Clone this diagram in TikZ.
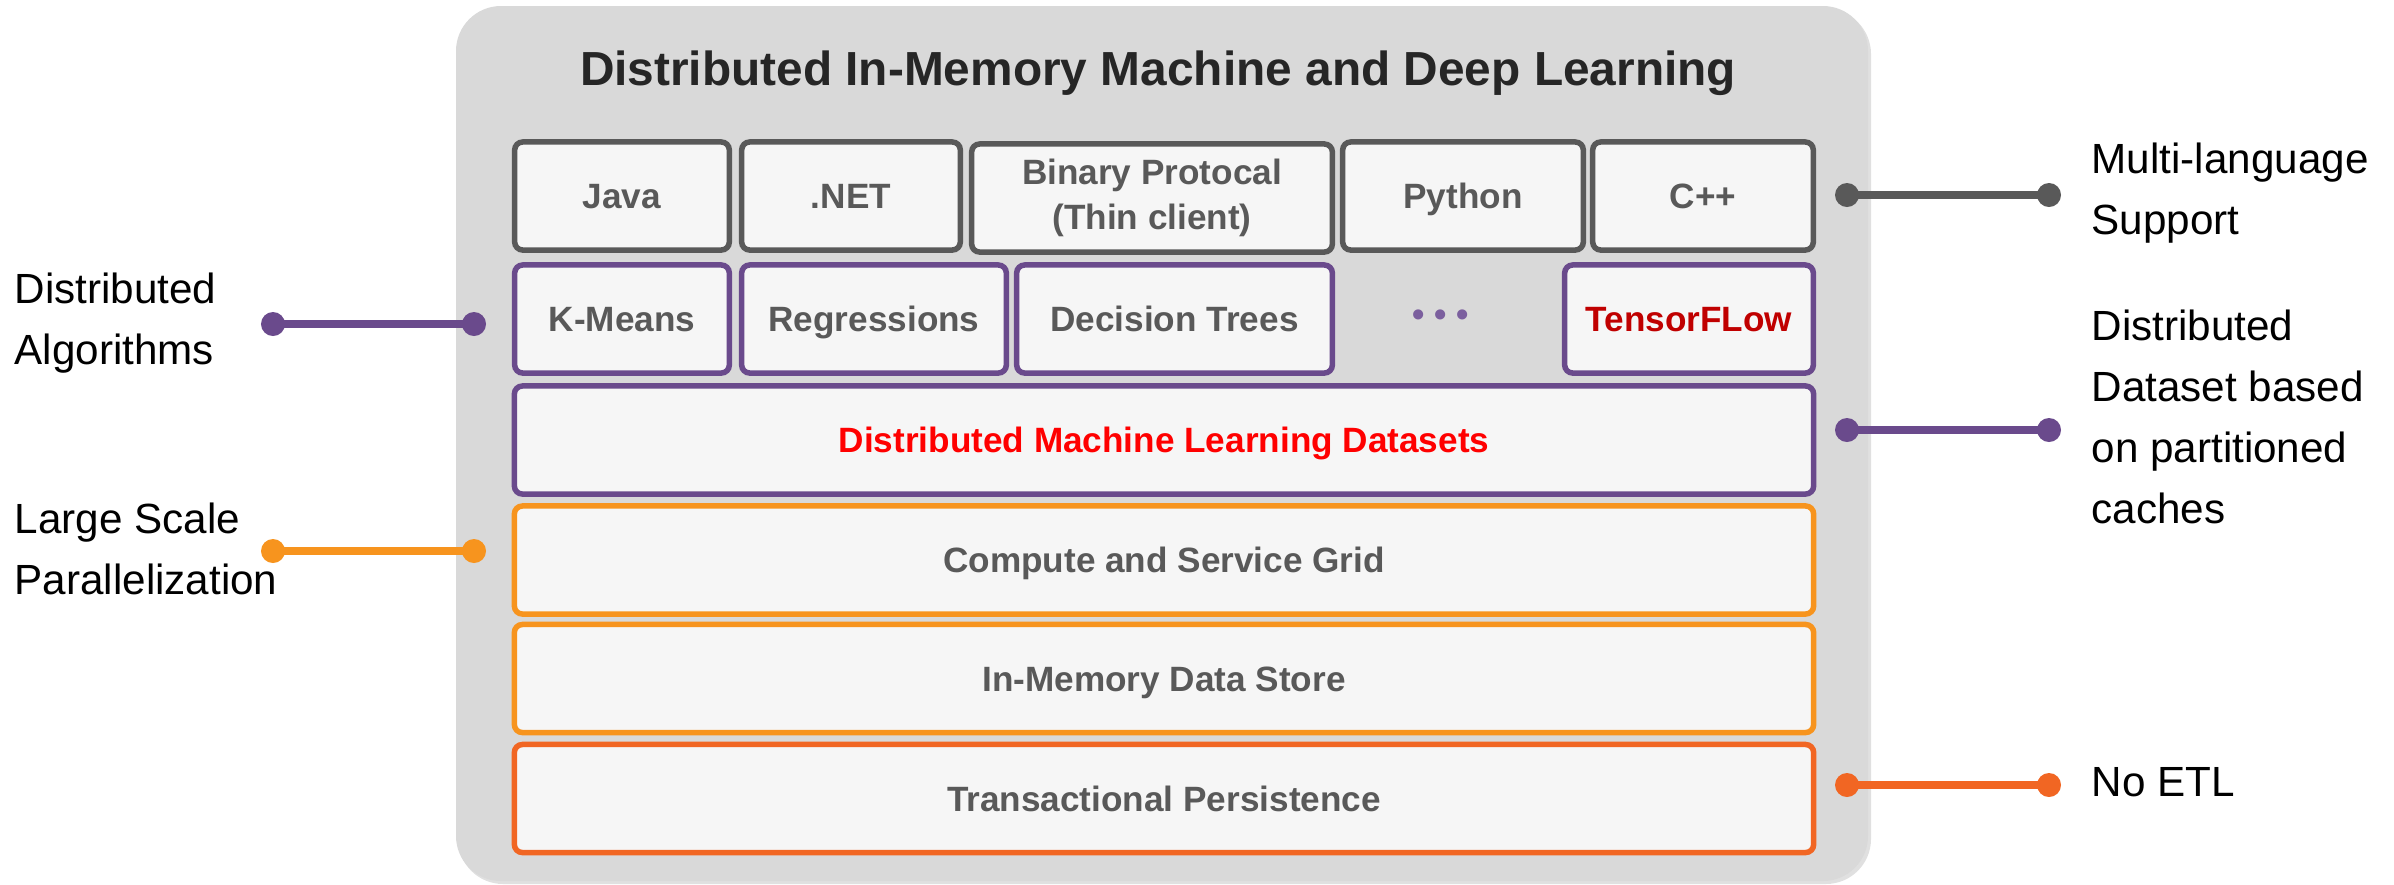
\documentclass[tikz,border=0pt]{standalone}
\usepackage{fontspec}
\setmainfont{Liberation Sans}
\usepackage{tikz}
\definecolor{panelgray}{RGB}{217,217,217}
\definecolor{boxfill}{RGB}{246,246,246}
\definecolor{edgegray}{RGB}{89,89,89}
\definecolor{txtgray}{RGB}{89,89,89}
\definecolor{algpurple}{RGB}{106,74,140}
\definecolor{dotpurple}{RGB}{123,95,158}
\definecolor{gridorange}{RGB}{247,148,30}
\definecolor{persistorange}{RGB}{241,102,35}
\definecolor{tfred}{RGB}{192,0,0}
\definecolor{dsred}{RGB}{255,0,0}
\definecolor{titleblack}{RGB}{38,38,38}
\tikzset{box/.style = {draw, line width=0.055cm, rounded corners=0.08cm, fill=boxfill, text=txtgray, align=center, inner sep=0, minimum height=1.08cm, font=\bfseries\fontsize{10}{12.8}\selectfont}}
\tikzset{layer/.style = {box, text height=0.716em, text depth=0pt}}
\tikzset{note/.style = {anchor=north west, align=left, inner sep=0, font=\fontsize{12}{17.4}\selectfont}}
\tikzset{link/.style = {line width=0.08cm}}

\begin{document}
\begin{tikzpicture}[x=0.01cm,y=-0.01cm]
            \useasboundingbox (0,0) rectangle (2394,884);
            \fill [black, opacity=0.12, rounded corners=0.45cm] (458,9) rectangle (1871,884);
            \fill [panelgray, rounded corners=0.45cm] (456,6) rectangle (1868,881);
            \node [anchor=base, inner sep=0, text=titleblack, font=\bfseries\fontsize{13.6}{16}\selectfont] (title) at (1158,85) {Distributed In-Memory Machine and Deep Learning};

            % language clients
            \node [layer, draw=edgegray, minimum width=2.145cm] (java) at (622,196) {Java};
            \node [layer, draw=edgegray, minimum width=2.185cm] (net) at (851,196) {.NET};
            \node [box, draw=edgegray, minimum width=3.605cm] (binary) at (1152,198) {Binary Protocal\\(Thin client)};
            \node [layer, draw=edgegray, minimum width=2.405cm] (python) at (1463,196) {Python};
            \node [layer, draw=edgegray, minimum width=2.205cm] (cpp) at (1703,196) {C++};

            % algorithms
            \node [layer, draw=algpurple, minimum width=2.145cm] (kmeans) at (622,319) {K-Means};
            \node [layer, draw=algpurple, minimum width=2.645cm] (regr) at (874,319) {Regressions};
            \node [layer, draw=algpurple, minimum width=3.155cm] (dtree) at (1174.5,319) {Decision Trees};
            \node [inner sep=0, text=dotpurple, font=\bfseries\fontsize{10}{12}\selectfont] (more) at (1441,318) {• • •};
            \node [layer, draw=algpurple, text=tfred, minimum width=2.485cm] (tflow) at (1689,319) {TensorFLow};

            % layers
            \node [layer, draw=algpurple, text=dsred, minimum width=12.985cm] (mlds) at (1164,440) {Distributed Machine Learning Datasets};
            \node [layer, draw=gridorange, minimum width=12.985cm] (grid) at (1164,560) {Compute and Service Grid};
            \node [layer, draw=gridorange, minimum width=12.985cm] (store) at (1164,678.5) {In-Memory Data Store};
            \node [layer, draw=persistorange, minimum width=12.985cm] (persist) at (1164,798.5) {Transactional Persistence};

            % side notes
            \node [note] (algnote) at (14,272) {Distributed\\Algorithms};
            \node [note] (parnote) at (14,502) {Large Scale\\Parallelization};
            \node [note] (langnote) at (2091,142) {Multi-language\\Support};
            \node [note] (dsnote) at (2091,309) {Distributed\\Dataset based\\on partitioned\\caches};
            \node [note] (etlnote) at (2091,767) {No ETL};

            \coordinate (algA) at (273,324);
            \coordinate (algB) at (474,324);
            \coordinate (parA) at (273,551);
            \coordinate (parB) at (474,551);
            \coordinate (langA) at (1847,195);
            \coordinate (langB) at (2049,195);
            \coordinate (dsA) at (1847,430);
            \coordinate (dsB) at (2049,430);
            \coordinate (etlA) at (1847,785);
            \coordinate (etlB) at (2049,785);

            \draw [link, algpurple] (algA)--(algB);
            \fill [algpurple] (algA) circle (0.12cm) (algB) circle (0.12cm);
            \draw [link, gridorange] (parA)--(parB);
            \fill [gridorange] (parA) circle (0.12cm) (parB) circle (0.12cm);
            \draw [link, edgegray] (langA)--(langB);
            \fill [edgegray] (langA) circle (0.12cm) (langB) circle (0.12cm);
            \draw [link, algpurple] (dsA)--(dsB);
            \fill [algpurple] (dsA) circle (0.12cm) (dsB) circle (0.12cm);
            \draw [link, persistorange] (etlA)--(etlB);
            \fill [persistorange] (etlA) circle (0.12cm) (etlB) circle (0.12cm);

        \end{tikzpicture}
\end{document}
